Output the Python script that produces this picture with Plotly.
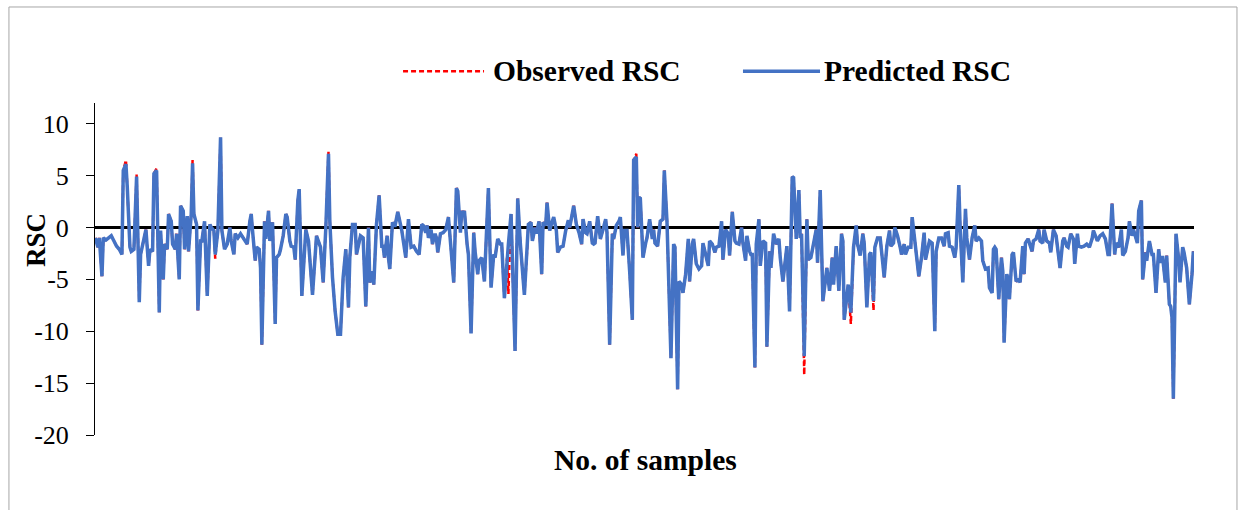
import plotly.graph_objects as go

# Sample numbers at which the RSC series was recorded
sample_no = [
    1, 3, 4, 6, 7, 9, 11, 13, 15, 17, 19, 21, 22, 24, 25, 27, 28, 30, 32, 34, 35, 37, 39, 41, 42, 44, 45, 47, 49, 50,
    52, 53, 55, 56, 58, 59, 61, 62, 64, 65, 67, 68, 70, 71, 73, 74, 75, 77, 78, 80, 81, 83, 85, 87, 88, 90, 91, 93, 95, 96,
    98, 100, 102, 103, 105, 106, 108, 110, 112, 114, 115, 117, 118, 119, 121, 122, 124, 125, 126, 128, 129, 131, 132, 134, 136, 137, 139, 140, 142, 144,
    145, 147, 148, 150, 151, 153, 154,
    156, 159, 161, 164, 167, 170, 172, 174, 176, 177, 179, 181, 183, 185, 187, 189, 191, 192, 194, 196, 197, 200, 202, 204, 206, 207, 209, 210, 212, 214,
    216, 217, 218, 220, 221, 222, 224, 225,
    226, 228, 231, 234, 236, 238, 240, 242, 244, 246, 247, 249, 250, 251, 253, 254, 256, 257, 258, 260, 262, 264, 266, 268, 270, 272, 273, 275, 276, 277,
    278, 280, 281, 283, 285, 286, 288, 289, 291, 293, 295, 296, 298, 300,
    301, 303, 305, 306, 308, 310, 311, 313, 316, 318, 320, 323, 325, 326, 328, 329, 331, 332, 334, 336, 337, 339, 340, 342, 343, 345, 347, 348, 350, 352,
    354, 356, 357, 358, 360, 362, 364, 366, 367, 369, 370, 372, 374, 375,
    376, 378, 380, 382, 384, 385, 387, 389, 390, 392, 394, 395, 397, 398, 400, 402, 404, 405, 407, 408, 409, 410, 412, 414, 415, 417, 419, 420, 421, 423,
    425, 427, 428, 430, 431, 433, 435, 436, 438, 439, 441, 442, 444, 446, 447, 449, 450,
    452, 454, 456, 457, 459, 461, 462, 464, 466, 467, 469, 471, 472, 474, 476, 477, 479, 481, 482, 484, 486, 487, 489, 490, 492, 493, 494, 496, 497, 499,
    500, 502, 504, 505, 507, 508, 510, 512, 514, 515, 517, 519, 520, 522, 524, 525,
    527, 529, 530, 531, 533, 535, 536, 538, 540, 542, 543, 545, 547, 549, 550, 552, 554, 555, 557, 559, 561, 562, 563, 565, 566, 568, 570, 572, 573, 575,
    577, 578, 580, 582, 583, 585, 586, 588, 590, 592, 593, 595, 597, 598, 600,
    601, 603, 605, 606, 608, 609, 611, 613, 614, 616, 618, 619, 621, 623, 624, 626, 627, 629, 631, 632, 634, 636, 638, 639, 641, 642, 644, 646, 647, 649,
    650, 652, 654, 655, 657, 659, 661, 662, 664, 666, 667, 669, 671, 672, 674, 675,
    676, 677, 679, 681, 682, 683, 685, 686, 687, 689, 690, 692, 694, 695, 697, 698, 699, 701, 702, 704, 705, 707, 709, 710, 712, 713, 715, 717, 718, 720,
    722, 723, 725, 727, 728, 730, 731, 733, 735, 736, 738, 739, 741, 743, 745, 747, 749, 750,
    751, 753, 755, 757, 759, 761, 762, 764, 766, 767, 769, 771, 772, 774, 776, 777, 779, 780, 781, 783, 784, 786, 787, 789, 790, 791, 792, 794, 795, 797,
    799, 800, 801, 802, 804, 805, 807, 808, 809, 810, 812, 814, 815, 817, 818, 820, 822, 824, 825, 827,
]

# Predicted RSC at each sample
predicted_rsc = [
    -1.0, -1.9, -1.0, -4.7, -1.0, -1.2, -1.0, -0.8, -1.3, -1.8, -2.1, -2.6, 5.5, 6.1, 3.9, -1.9, -2.3, -2.1, 4.9, -7.2, -2.6, -1.3, -0.2, -3.7, -2.1, -2.3, 5.2, 5.5, -8.2, -0.3,
    -5.0, -1.6, -2.1, 1.3, 0.6, -1.6, -2.1, -0.6, -5.0, 2.1, 1.6, -2.1, 1.1, -2.3, 1.3, 6.2, 1.3, 0.3, -8.0, -1.3, -1.3, 0.6, -6.6, 0.3, 0.0, -0.3, -2.6, -0.3, 8.7, -0.3,
    -2.1, -1.6, 0.0, -1.3, -2.6, -0.6, -1.0, -0.6, -1.0, -1.4, -1.6, 0.6, 1.3, -0.3, -3.2, -1.9, -2.1, -3.9, -11.3, 0.6, -1.1, 1.6, -1.3, 0.5, -9.3, -2.9, -2.6, -2.1, -0.8, 1.3,
    1.0, -1.3, -1.8, -1.9, -3.1, 2.6, 3.7,
    -6.6, -0.2, -1.3, -6.5, -0.8, -1.9, -5.3, 0.0, 7.1, 0.6, -4.8, -8.1, -10.3, -10.3, -4.8, -2.1, -7.7, -2.9, 0.3, 0.3, -2.6, -0.8, -1.0, -7.6, 0.0, -5.3, -4.2, -5.5, 0.3, 3.1,
    -1.8, -1.8, -2.9, -0.8, -2.9, -4.0, 0.5, 0.2,
    0.2, 1.5, -0.3, -2.9, 0.8, -1.9, -1.8, -2.3, -2.6, 0.3, 0.2, -0.5, 0.2, -1.0, -0.2, -1.6, -0.6, -1.0, -2.4, -0.6, -0.5, -0.2, 1.0, -2.6, -5.3, 3.8, 3.5, -0.5, 1.6, 1.3,
    1.6, -1.6, -2.6, -10.2, -0.5, -2.3, -4.5, -3.2, -2.9, -5.2, 1.9, 3.8, -5.8, -2.6,
    -2.9, -1.1, -1.6, -1.6, -6.8, -2.9, -1.6, 1.3, -11.9, 2.8, -1.6, -6.5, -2.3, 0.3, 0.5, -1.3, 0.0, -0.6, 0.6, -4.5, 0.5, 0.2, 2.4, -0.3, 0.2, 1.0, -0.3, -2.4, -1.9, -1.8,
    -0.3, 0.7, 0.0, 0.6, 2.1, 0.3, -0.5, -1.6, 0.8, -0.5, -0.6, 0.6, -1.5, -1.6,
    -1.5, 1.1, -1.1, -0.2, 0.8, -0.5, -11.3, -0.6, -1.1, 0.2, 0.6, 1.0, -2.7, -0.3, -0.3, -4.2, -8.9, 6.5, 6.8, 0.0, 2.9, 2.8, -2.9, -1.5, -1.0, 0.8, -1.1, -0.2, -1.5, -1.8,
    0.6, 0.8, 5.5, 0.6, -3.9, -12.6, -1.6, -1.9, -15.6, -5.2, -5.5, -6.3, -4.5, -1.1, -5.2, -1.6, -1.1,
    -3.5, -4.0, -3.7, -1.5, -2.6, -3.7, -1.3, -1.6, -2.4, -1.9, -1.8, 0.6, -3.1, -0.2, -0.6, -2.7, 1.5, -1.3, -1.5, -1.6, 0.0, -1.5, -3.2, -0.8, -2.3, -2.6, -2.6, -13.5, -1.6, 0.8,
    -3.7, -1.3, -1.5, -11.5, -2.3, -3.9, -0.6, -1.6, -1.1, -2.9, -5.2, -3.2, -1.8, -8.1, 4.9, 4.8,
    -1.1, 3.6, -1.0, -0.6, -12.4, 0.8, -3.1, -2.9, -1.6, -0.2, -3.4, 3.6, -7.1, -4.5, -3.9, -6.1, -2.9, -5.5, -1.8, -6.1, -0.6, -1.3, -8.9, -6.6, -5.5, -8.2, -1.9, 0.2, -1.6, -2.7,
    -0.6, -1.5, -7.7, -2.6, -2.4, -7.1, -1.9, -1.0, -1.0, -3.5, -4.8, -1.8, -0.3, -1.8, -1.5,
    0.0, -0.8, -1.9, -2.6, -1.6, -2.6, -1.9, -1.9, 1.0, -1.3, -3.9, -4.7, -2.9, -0.5, -3.1, -1.8, -1.3, -1.5, -10.0, -2.3, -1.0, -1.0, -1.8, -0.6, -0.5, -1.8, -1.9, -2.9, -1.9, 4.1,
    0.0, -5.3, 1.8, -1.0, -3.1, -1.0, 0.2, -1.3, -1.0, -1.3, -3.2, -4.0, -3.9, -5.8, -6.3, -2.1,
    -1.9, -2.1, -6.9, -2.9, -4.2, -11.1, -4.5, -5.0, -6.9, -2.6, -2.4, -5.2, -5.0, -5.3, -1.8, -4.5, -1.5, -1.1, -1.5, -2.3, -1.3, -1.1, -0.2, -1.3, -1.5, -0.2, -1.3, -1.5, -2.4, -0.2,
    -0.8, -1.9, -3.9, -1.3, -1.0, -1.8, -1.9, -0.6, -1.1, -3.5, -0.6, -1.8, -1.9, -1.8, -1.6, -1.9, -1.1, -0.3,
    -0.6, -1.3, -0.8, -0.6, -1.1, -2.6, -2.6, 2.3, -2.6, -1.5, -1.9, -0.2, -2.7, -2.3, -1.0, 0.6, -0.8, -0.2, -0.6, -1.5, 1.6, 2.6, -5.0, -2.4, -3.2, -2.3, -1.3, -2.6, -2.6, -6.3,
    -2.1, -3.4, -2.9, -2.9, -5.3, -2.7, -7.4, -7.6, -8.7, -16.5, -0.6, -3.1, -5.3, -1.9, -2.4, -3.9, -7.4, -4.5, -2.3, -4.5,
]

# Observed RSC equals the prediction except at these samples
observed_differs = {
    24: 6.5, 32: 5.1, 47: 5.7, 74: 6.5, 91: -3.0, 176: 7.3, 311: -6.4,
    407: 7.1, 533: -14.2, 568: -9.3, 585: -8.0,
}

assert len(sample_no) == len(predicted_rsc)
observed_rsc = [observed_differs.get(s, v) for s, v in zip(sample_no, predicted_rsc)]

y_ticks = [-20, -15, -10, -5, 0, 5, 10]
y_tick_text = ["-20", "-15", "-10", "-5", "0", "5", "10"]

RED = "#FF0000"
BLUE = "#4472C4"
SERIF = "Liberation Serif"

fig = go.Figure()
fig.add_trace(go.Scatter(
    x=sample_no, y=observed_rsc, mode="lines", name="Observed RSC",
    line=dict(color=RED, width=2.5, dash="5px,3px"), showlegend=False,
))
fig.add_trace(go.Scatter(
    x=sample_no, y=predicted_rsc, mode="lines", name="Predicted RSC",
    line=dict(color=BLUE, width=3.5), showlegend=False,
))

# Legend drawn as line samples with labels above the plot
legend_y = 1.096
fig.add_shape(type="line", xref="paper", yref="paper", x0=0.2803, x1=0.3540,
              y0=legend_y, y1=legend_y, line=dict(color=RED, width=2.5, dash="5px,3px"))
fig.add_shape(type="line", xref="paper", yref="paper", x0=0.5896, x1=0.6597,
              y0=legend_y, y1=legend_y, line=dict(color=BLUE, width=3.5))
fig.add_annotation(xref="paper", yref="paper", x=0.3603, y=legend_y, xanchor="left",
                   yanchor="middle", showarrow=False, text="<b>Observed RSC</b>",
                   font=dict(family=SERIF, size=29.5, color="black"))
fig.add_annotation(xref="paper", yref="paper", x=0.6615, y=legend_y, xanchor="left",
                   yanchor="middle", showarrow=False, text="<b>Predicted RSC</b>",
                   font=dict(family=SERIF, size=29.5, color="black"))

# Axis titles
fig.add_annotation(xref="paper", yref="paper", x=0.5005, y=-0.075, xanchor="center",
                   yanchor="middle", showarrow=False, text="<b>No. of samples</b>",
                   font=dict(family=SERIF, size=29.5, color="black"))
fig.add_annotation(xref="paper", yref="paper", x=-0.0537, y=0.587, xanchor="center",
                   yanchor="middle", showarrow=False, text="<b>RSC</b>", textangle=-90,
                   font=dict(family=SERIF, size=27, color="black"))

# Outer chart frame
fig.add_shape(type="rect", xref="paper", yref="paper", x0=-0.0783, x1=1.0391,
              y0=-0.241, y1=1.2892, line=dict(color="#A6A6A6", width=1), layer="below")

fig.update_layout(
    width=1247, height=510,
    margin=dict(l=95, r=53, t=103, b=75),
    paper_bgcolor="white", plot_bgcolor="white",
    font=dict(family=SERIF, size=26, color="black"),
    xaxis=dict(range=[0.78, 825.5], showticklabels=False, ticks="", showgrid=False,
               zeroline=False, showline=False),
    yaxis=dict(range=[-20, 12], tickvals=y_ticks, ticktext=y_tick_text, ticks="outside",
               ticklen=8, tickcolor="black", tickwidth=1, showline=True, linecolor="black",
               linewidth=1, showgrid=False, zeroline=True, zerolinecolor="black",
               zerolinewidth=3, ticklabelstandoff=12,
               tickfont=dict(family=SERIF, size=26, color="black")),
)

fig.write_html("out.html")
